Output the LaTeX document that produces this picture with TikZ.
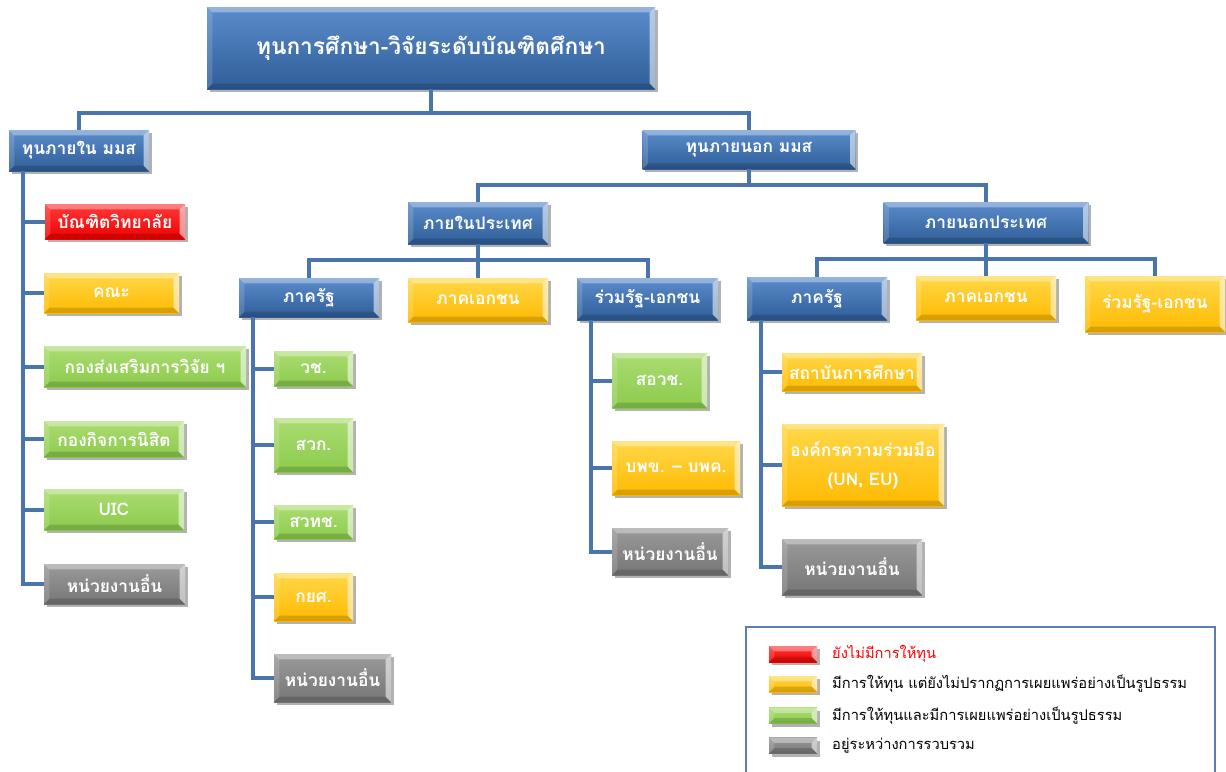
\documentclass[tikz,border=0pt]{standalone}
\usepackage{fontspec}
\usetikzlibrary{shadows,positioning}
\newfontfamily\thaifont[Script=Thai]{Loma}

\definecolor{blueA}{HTML}{5B8CCB}
\definecolor{blueB}{HTML}{2F5E98}
\definecolor{yellowA}{HTML}{FFD84A}
\definecolor{yellowB}{HTML}{FFBA00}
\definecolor{greenA}{HTML}{ABDC72}
\definecolor{greenB}{HTML}{8CCB4C}
\definecolor{redA}{HTML}{FF3A3A}
\definecolor{redB}{HTML}{F00000}
\definecolor{grayA}{HTML}{9A9A9A}
\definecolor{grayB}{HTML}{767676}
\definecolor{linkblue}{HTML}{4A74AC}
\definecolor{framecol}{HTML}{5B7DB1}

\tikzset{
  wh/.style 2 args={minimum width=#1*0.75pt, minimum height=#2*0.75pt},
  bevel/.style={path picture={
    \fill[white,opacity=.35] (path picture bounding box.north west) -- (path picture bounding box.north east)
      -- ([shift={(-4pt,-4pt)}]path picture bounding box.north east) -- ([shift={(4pt,-4pt)}]path picture bounding box.north west) -- cycle;
    \fill[white,opacity=.55] (path picture bounding box.north east) -- (path picture bounding box.south east)
      -- ([shift={(-4pt,4pt)}]path picture bounding box.south east) -- ([shift={(-4pt,-4pt)}]path picture bounding box.north east) -- cycle;
    \fill[black,opacity=.15] (path picture bounding box.south west) -- (path picture bounding box.south east)
      -- ([shift={(-4pt,4pt)}]path picture bounding box.south east) -- ([shift={(4pt,4pt)}]path picture bounding box.south west) -- cycle;
    \fill[white,opacity=.15] (path picture bounding box.north west) -- (path picture bounding box.south west)
      -- ([shift={(4pt,4pt)}]path picture bounding box.south west) -- ([shift={(4pt,-4pt)}]path picture bounding box.north west) -- cycle;
  }},
  box/.style={inner sep=1pt, align=center, text=white, bevel,
    font=\thaifont\bfseries\fontsize{13}{15}\selectfont,
    drop shadow={shadow xshift=2pt, shadow yshift=-2.5pt, opacity=.3, fill=black}},
  bluebox/.style={box, top color=blueA, bottom color=blueB},
  yellowbox/.style={box, top color=yellowA, bottom color=yellowB},
  greenbox/.style={box, top color=greenA, bottom color=greenB},
  redbox/.style={box, top color=redA, bottom color=redB},
  graybox/.style={box, top color=grayA, bottom color=grayB},
  rootfont/.style={font=\thaifont\bfseries\fontsize{17}{20}\selectfont},
  link/.style={draw=linkblue, line width=3pt},
  keytext/.style={inner sep=1pt, font=\thaifont\fontsize{11}{13}\selectfont},
}

\begin{document}
\begin{tikzpicture}[x=0.75pt, y=-0.75pt]
  \useasboundingbox (0,0) rectangle (1226,771);

  % top levels
  \node[bluebox, rootfont, wh={448}{82}] (root) at (431,48) {ทุนการศึกษา-วิจัยระดับบัณฑิตศึกษา};
  \node[bluebox, wh={140}{41}] (inner) at (79,150.5) {ทุนภายใน มมส};
  \node[bluebox, wh={213}{39}] (outer) at (749,149.5) {ทุนภายนอก มมส};
  \node[bluebox, wh={140}{42}] (domestic) at (478,223) {ภายในประเทศ};
  \node[bluebox, wh={205}{41}] (foreign) at (986,222.5) {ภายนอกประเทศ};

  \node[bluebox, wh={140}{39}] (govA) at (309,297.5) {ภาครัฐ};
  \node[yellowbox, wh={140}{44}] (privA) at (478,300) {ภาคเอกชน};
  \node[bluebox, wh={141}{42}] (jointA) at (647.5,299) {ร่วมรัฐ-เอกชน};
  \node[bluebox, wh={140}{43}] (govB) at (817,298.5) {ภาครัฐ};
  \node[yellowbox, wh={140}{44}] (privB) at (986,298) {ภาคเอกชน};
  \node[yellowbox, wh={140}{56}] (jointB) at (1155,304) {ร่วมรัฐ-เอกชน};

  % inside the university
  \node[redbox, wh={140}{35}] (gradsch) at (115,221.5) {บัณฑิตวิทยาลัย};
  \node[yellowbox, wh={135}{40}] (faculty) at (111.5,293) {คณะ};
  \node[greenbox, wh={202}{41}] (resdiv) at (145,366.5) {กองส่งเสริมการวิจัย ฯ};
  \node[greenbox, wh={140}{36}] (stuaff) at (114,439) {กองกิจการนิสิต};
  \node[greenbox, wh={140}{41}] (uic) at (114,509.5) {UIC};
  \node[graybox, wh={141}{40}] (othersA) at (114.5,584) {หน่วยงานอื่น};

  % government, domestic
  \node[greenbox, wh={79}{35}] (nrct) at (313.5,368.5) {วช.};
  \node[greenbox, wh={79}{54}] (arda) at (313.5,445) {สวก.};
  \node[greenbox, wh={79}{34}] (nstda) at (313.5,522) {สวทช.};
  \node[yellowbox, wh={79}{48}] (sl) at (313.5,597) {กยศ.};
  \node[graybox, wh={117}{48}] (othersB) at (332.5,678) {หน่วยงานอื่น};

  % joint, domestic
  \node[greenbox, wh={95}{55}] (nxpo) at (659.5,380.5) {สอวช.};
  \node[yellowbox, wh={128}{54}] (pmu) at (676,468) {บพข. – บพค.};
  \node[graybox, wh={116}{47}] (othersC) at (670,551.5) {หน่วยงานอื่น};

  % government, foreign
  \node[yellowbox, wh={140}{38}] (inst) at (852,372) {สถาบันการศึกษา};
  \node[yellowbox, wh={162}{82}] (coop) at (863,465) {องค์กรความร่วมมือ\\[7pt](UN, EU)};
  \node[graybox, wh={140}{56}] (othersD) at (852,567) {หน่วยงานอื่น};

  % connectors
  \draw[link] (root.south) -- ++(0,24) coordinate (bus0);
  \draw[link] (inner.north) |- (bus0) -| (outer.north);
  \draw[link] (outer.south) -- ++(0,16) coordinate (bus1);
  \draw[link] (domestic.north) |- (bus1) -| (foreign.north);
  \draw[link] (domestic.south) -- (privA.north);
  \path (domestic.south) ++(0,16) coordinate (bus2);
  \draw[link] (govA.north) |- (bus2) -| (jointA.north);
  \draw[link] (foreign.south) -- (privB.north);
  \path (foreign.south) ++(0,16) coordinate (bus3);
  \draw[link] (govB.north) |- (bus3) -| (jointB.north);

  \foreach \c in {gradsch,faculty,resdiv,stuaff,uic,othersA}
    \draw[link] ([xshift=10.5pt]inner.south west) |- (\c.west);
  \foreach \c in {nrct,arda,nstda,sl,othersB}
    \draw[link] ([xshift=10.5pt]govA.south west) |- (\c.west);
  \foreach \c in {nxpo,pmu,othersC}
    \draw[link] ([xshift=11pt]jointA.south west) |- (\c.west);
  \foreach \c in {inst,coop,othersD}
    \draw[link] ([xshift=11pt]govB.south west) |- (\c.west);

  % legend
  \node[draw=framecol, line width=1.2pt, anchor=north west, wh={469}{170}] (legend) at (745,626) {};
  \node[redbox, wh={48}{16}] (keyred) at (793,654) {};
  \node[yellowbox, wh={48}{16}] (keyyellow) at (793,684) {};
  \node[greenbox, wh={48}{16}] (keygreen) at (793,715.5) {};
  \node[graybox, wh={48}{16}] (keygray) at (793,745.5) {};
  \node[keytext, text=red, right=10pt of keyred] (keyredtext) {ยังไม่มีการให้ทุน};
  \node[keytext, right=10pt of keyyellow] (keyyellowtext) {มีการให้ทุน แต่ยังไม่ปรากฏการเผยแพร่อย่างเป็นรูปธรรม};
  \node[keytext, right=10pt of keygreen] (keygreentext) {มีการให้ทุนและมีการเผยแพร่อย่างเป็นรูปธรรม};
  \node[keytext, right=10pt of keygray] (keygraytext) {อยู่ระหว่างการรวบรวม};
\end{tikzpicture}
\end{document}
